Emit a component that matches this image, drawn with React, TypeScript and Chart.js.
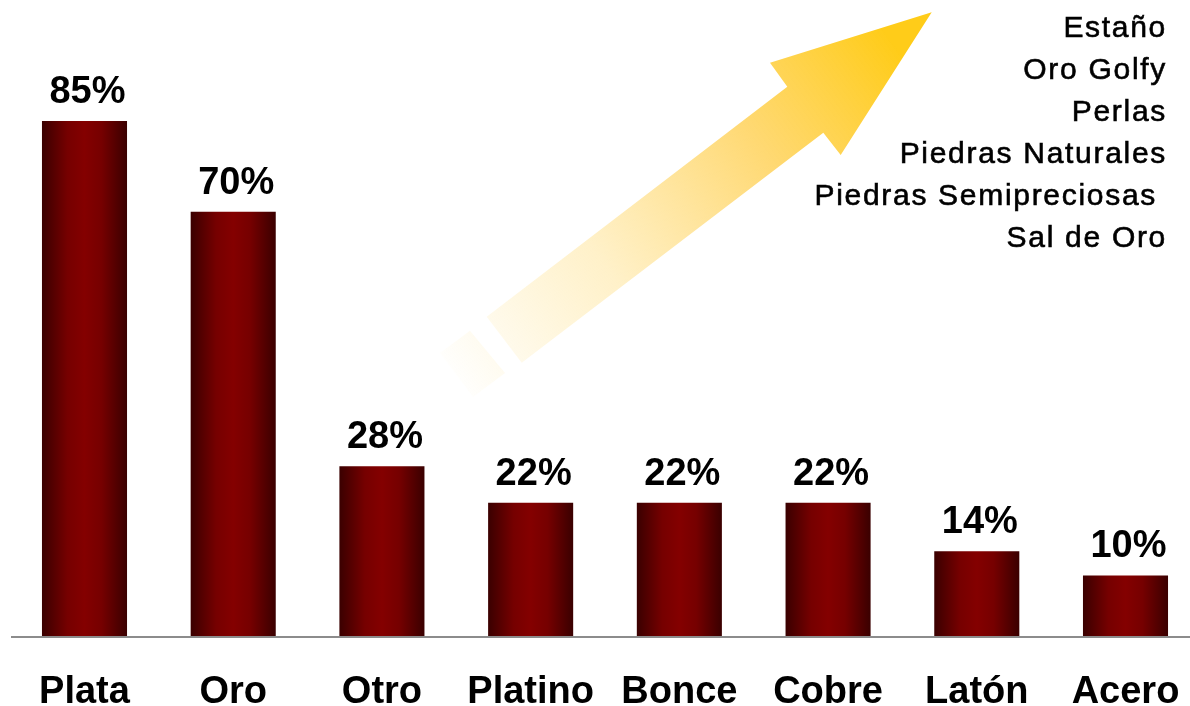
import React, { useEffect, useRef } from "react";
import { Chart, registerables } from "chart.js";
Chart.register(...registerables);

const categories = ["Plata", "Oro", "Otro", "Platino", "Bonce", "Cobre", "Latón", "Acero"];
const shares = [85, 70, 28, 22, 22, 22, 14, 10];
const valueLabels = ["85%", "70%", "28%", "22%", "22%", "22%", "14%", "10%"];
const otherMaterials = [
  "Estaño",
  "Oro Golfy",
  "Perlas",
  "Piedras Naturales",
  "Piedras Semipreciosas ",
  "Sal de Oro",
];
const axisMin = 0;
const axisMax = 100;

const FONT = '"Liberation Sans", Arial, sans-serif';
const CAT_PCT = 0.8;
const BAR_PCT = 0.715;

const decorPlugin = {
  id: "decor",
  beforeDatasetsDraw(chart: any) {
    const { ctx, scales, width } = chart;
    const y0 = scales.y.getPixelForValue(0);
    ctx.save();
    // baseline
    ctx.strokeStyle = "#8c8c8c";
    ctx.lineWidth = 2;
    ctx.beginPath();
    ctx.moveTo(11, y0 + 1);
    ctx.lineTo(width, y0 + 1);
    ctx.stroke();

    // arrow (decorative)
    const g = ctx.createLinearGradient(450, 385, 905, 60);
    g.addColorStop(0, "rgba(255,214,90,0.0)");
    g.addColorStop(0.35, "rgba(255,214,100,0.35)");
    g.addColorStop(0.7, "rgba(255,210,90,0.85)");
    g.addColorStop(1, "rgba(255,204,25,1)");
    ctx.fillStyle = g;
    ctx.beginPath();
    ctx.moveTo(931.7, 12.3);
    ctx.lineTo(840.7, 155);
    ctx.lineTo(823.3, 132.7);
    ctx.lineTo(521.7, 362.7);
    ctx.lineTo(486.7, 316.7);
    ctx.lineTo(787.3, 86.7);
    ctx.lineTo(770, 62.7);
    ctx.closePath();
    ctx.fill();
    ctx.beginPath();
    ctx.moveTo(470, 330.7);
    ctx.lineTo(505, 373);
    ctx.lineTo(473, 397);
    ctx.lineTo(440, 353);
    ctx.closePath();
    ctx.fill();

    // list of other materials
    ctx.fillStyle = "#000";
    ctx.strokeStyle = "#000";
    ctx.lineWidth = 0.6;
    ctx.font = `30px ${FONT}`;
    (ctx as any).letterSpacing = "1.7px";
    ctx.textAlign = "right";
    ctx.textBaseline = "alphabetic";
    otherMaterials.forEach((t, i) => {
      ctx.fillText(t, 1167, 37 + i * 42);
      ctx.strokeText(t, 1167, 37 + i * 42);
    });
    ctx.restore();
  },
  afterDatasetsDraw(chart: any) {
    const { ctx } = chart;
    const meta = chart.getDatasetMeta(0);
    ctx.save();
    ctx.fillStyle = "#000";
    ctx.font = `bold 38px ${FONT}`;
    ctx.textAlign = "center";
    ctx.textBaseline = "alphabetic";
    meta.data.forEach((el: any, i: number) => {
      ctx.fillText(valueLabels[i], el.x + 3, el.y - 18);
    });
    ctx.restore();
  },
};

export default function App() {
  const ref = useRef<HTMLCanvasElement>(null);
  useEffect(() => {
    if (!ref.current) return;
    const chart = new Chart(ref.current, {
      type: "bar",
      data: {
        labels: categories,
        datasets: [
          {
            data: shares,
            clip: false,
            categoryPercentage: CAT_PCT,
            barPercentage: BAR_PCT,
            borderWidth: 0,
            backgroundColor: (c: any) => {
              const ch = c.chart;
              const xs = ch.scales?.x;
              if (!xs || !ch.chartArea || c.type !== "data") return "#7a0000";
              const cx = xs.getPixelForValue(c.dataIndex);
              const step = Math.abs(xs.getPixelForValue(1) - xs.getPixelForValue(0));
              const w = step * CAT_PCT * BAR_PCT;
              const g = ch.ctx.createLinearGradient(cx - w / 2, 0, cx + w / 2, 0);
              g.addColorStop(0, "#3a0000");
              g.addColorStop(0.3, "#760000");
              g.addColorStop(0.5, "#840000");
              g.addColorStop(0.7, "#760000");
              g.addColorStop(1, "#3a0000");
              return g;
            },
          } as any,
        ],
      },
      options: {
        animation: false,
        responsive: false,
        layout: { padding: { left: 84.5, right: 64.5, top: 30, bottom: 0 } },
        plugins: { legend: { display: false }, tooltip: { enabled: false } },
        scales: {
          x: {
            offset: false,
            grid: { display: false, drawTicks: false },
            border: { display: false },
            afterFit: (scale: any) => {
              scale.height = 70;
              scale.paddingLeft = 0;
              scale.paddingRight = 0;
            },
            ticks: {
              color: "#000",
              padding: 38,
              font: { family: FONT, size: 38, weight: "bold", lineHeight: 1 },
              maxRotation: 0,
              autoSkip: false,
            },
          },
          y: {
            display: false,
            min: axisMin,
            max: axisMax,
          },
        },
      },
      plugins: [decorPlugin],
    });
    return () => chart.destroy();
  }, []);
  return (
    <div style={{ position: "fixed", left: 0, top: 0, width: 1190, height: 706, background: "#fff" }}>
      <canvas ref={ref} width={1190} height={706} style={{ display: "block" }} />
    </div>
  );
}
